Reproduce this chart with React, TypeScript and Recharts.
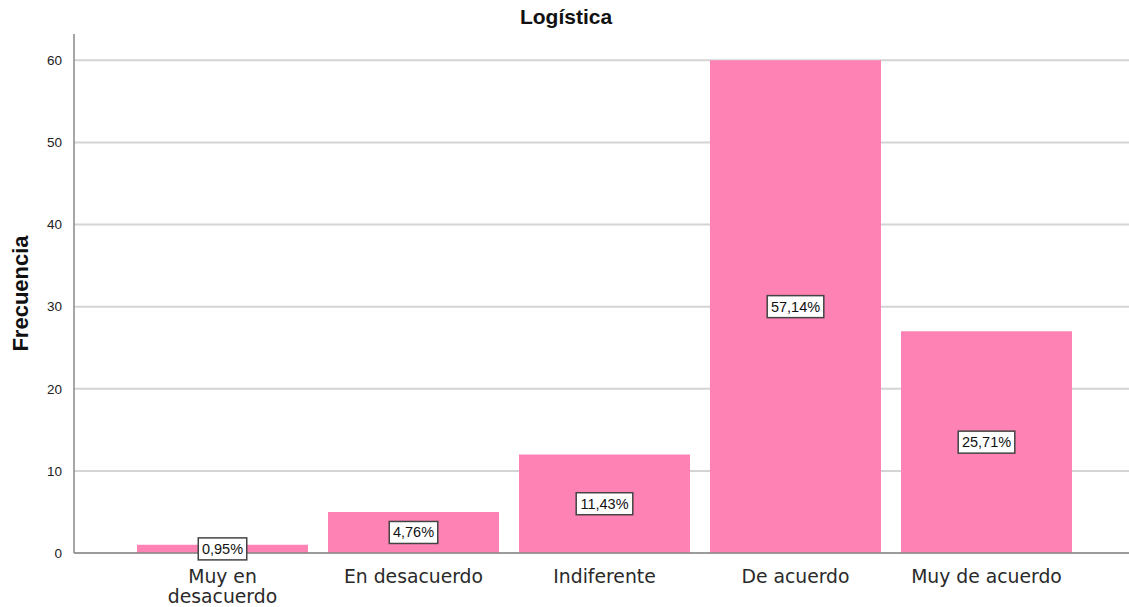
import React from 'react';
import { BarChart, Bar, XAxis, YAxis, CartesianGrid, LabelList } from 'recharts';

const categories = ['Muy en desacuerdo', 'En desacuerdo', 'Indiferente', 'De acuerdo', 'Muy de acuerdo'];
const frequencies = [1, 5, 12, 60, 27];
const percentLabels = ['0,95%', '4,76%', '11,43%', '57,14%', '25,71%'];
const yTicks = [0, 10, 20, 30, 40, 50, 60];

const data = categories.map((name, i) => ({
  name,
  value: frequencies[i],
  pct: percentLabels[i],
}));

const FONT = '"Liberation Sans", Arial, sans-serif';
const CAT_FONT = '"DejaVu Sans", sans-serif';

const CategoryTick = (props: any) => {
  const { x, y, payload } = props;
  const lines = payload.value === 'Muy en desacuerdo' ? ['Muy en', 'desacuerdo'] : [payload.value];
  return (
    <text x={x} y={y} textAnchor="middle" fill="#2a2a2a" fontSize={18.8} fontFamily={CAT_FONT}>
      {lines.map((l: string, i: number) => (
        <tspan key={i} x={x} dy={i === 0 ? 22 : 20}>
          {l}
        </tspan>
      ))}
    </text>
  );
};

const PctLabel = (props: any) => {
  const { x, y, width, height, value } = props;
  const cx = x + width / 2;
  const cy = y + height / 2;
  const w = value.length * 8.1 + 8;
  const h = 22;
  return (
    <g>
      <rect x={cx - w / 2} y={cy - h / 2} width={w} height={h} fill="#fff" stroke="#444" strokeWidth={1.5} />
      <text x={cx} y={cy + 5} textAnchor="middle" fontSize={14.5} fill="#111" fontFamily={FONT}>
        {value}
      </text>
    </g>
  );
};

export default function App() {
  return (
    <div style={{ position: 'absolute', left: 0, top: 0, width: 1129, height: 607, background: '#fff' }}>
      <svg width={1129} height={32} style={{ position: 'absolute', left: 0, top: 0 }}>
        <text x={566} y={24} textAnchor="middle" fontSize={21} fontWeight="bold" fill="#111" fontFamily={FONT}>
          Logística
        </text>
      </svg>
      <BarChart
        width={1129}
        height={607}
        data={data}
        margin={{ top: 34, right: 0, bottom: 0, left: 0 }}
        barCategoryGap={10}
      >
        <CartesianGrid vertical={false} stroke="#d4d4d4" strokeWidth={2} syncWithTicks />
        <XAxis
          dataKey="name"
          padding={{ left: 53, right: 47 }}
          height={54}
          tickLine={false}
          axisLine={{ stroke: '#888', strokeWidth: 1.5 }}
          tick={<CategoryTick />}
          interval={0}
        />
        <YAxis
          width={74}
          domain={[0, 63.2]}
          ticks={yTicks}
          tickLine={false}
          axisLine={{ stroke: '#888', strokeWidth: 1.5 }}
          tick={{ fontSize: 13.5, fill: '#222', fontFamily: FONT }}
          tickMargin={6}
          label={{
            value: 'Frecuencia',
            angle: -90,
            position: 'insideLeft',
            offset: 20,
            style: { fontSize: 22, fontWeight: 'bold', fill: '#111', fontFamily: FONT, textAnchor: 'middle' },
          }}
        />
        <Bar dataKey="value" fill="#fe83b4" isAnimationActive={false}>
          <LabelList dataKey="pct" content={<PctLabel />} />
        </Bar>
      </BarChart>
    </div>
  );
}
